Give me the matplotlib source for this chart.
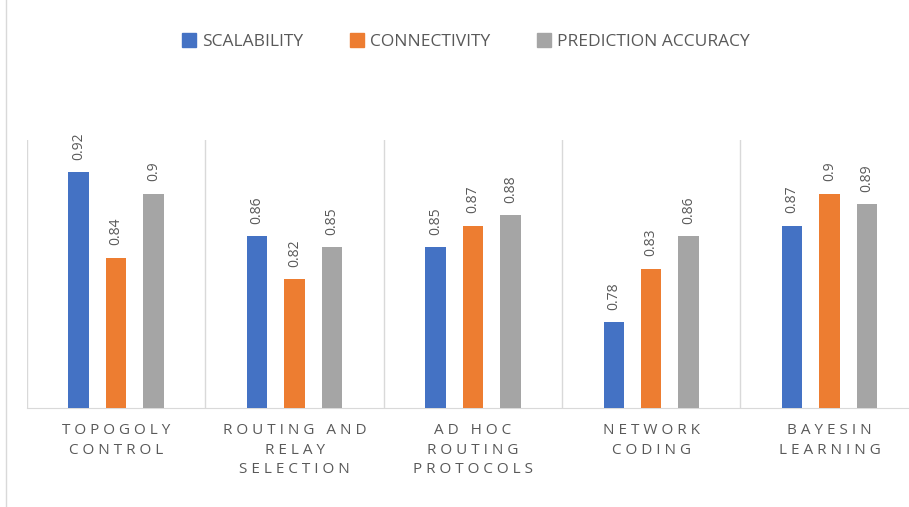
import numpy as np
import matplotlib.pyplot as plt
import matplotlib as mpl
from matplotlib.lines import Line2D

mpl.rcParams['font.family'] = ['Open Sans', 'DejaVu Sans']

categories = ['TOPOGOLY\nCONTROL', 'ROUTING AND\nRELAY\nSELECTION', 'AD HOC\nROUTING\nPROTOCOLS',
              'NETWORK\nCODING', 'BAYESIN\nLEARNING']
series = ['SCALABILITY', 'CONNECTIVITY', 'PREDICTION ACCURACY']
scalability = [0.92, 0.86, 0.85, 0.78, 0.87]
connectivity = [0.84, 0.82, 0.87, 0.83, 0.9]
accuracy = [0.9, 0.85, 0.88, 0.86, 0.89]
colors = ['#4472C4', '#ED7D31', '#A5A5A5']


def spaced(s):
    # spread the letters, like the original
    return '\n'.join(' '.join(line) for line in s.split('\n'))


fig = plt.figure(figsize=(9.09, 5.07), dpi=100)
ax = fig.add_axes([0.0297, 0.195, 0.981, 0.529])

x = np.arange(len(categories))
width = 0.115
offsets = [-0.21, 0, 0.21]
for vals, off, col, name in zip([scalability, connectivity, accuracy], offsets, colors, series):
    bars = ax.bar(x + off, vals, width, color=col, label=name, zorder=3)
    for b, v in zip(bars, vals):
        ax.annotate(f'{v:g}', (b.get_x() + b.get_width() / 2, v), xytext=(0, 9),
                    textcoords='offset points', ha='center', va='bottom', rotation=90,
                    fontsize=10, color='#595959')

ax.set_ylim(0.7, 0.95)
ax.set_xlim(-0.5, len(categories) - 0.5)
ax.set_yticks([])
ax.set_xticks(x)
ax.set_xticklabels([spaced(c) for c in categories], fontsize=11, color='#595959', linespacing=1.4)
ax.tick_params(axis='x', length=0, pad=11)
for s in ['top', 'right', 'left']:
    ax.spines[s].set_visible(False)
ax.spines['bottom'].set_color('#D9D9D9')
for b in np.arange(-0.5, len(categories) + 0.5, 1):
    ax.axvline(b, color='#D9D9D9', lw=1, zorder=1)

handles = [Line2D([], [], marker='s', ls='none', color=c, markersize=10) for c in colors]
fig.legend(handles, series, loc='center', bbox_to_anchor=(0.513, 0.918), ncol=3, frameon=False,
           fontsize=12.5, handlelength=0.8, handletextpad=0.35, columnspacing=2.7,
           labelcolor='#595959')

fig.add_artist(Line2D([0.007, 0.007], [0.0, 1.0], color='#D9D9D9', lw=1, transform=fig.transFigure))

fig.savefig('out.png', dpi=100)
